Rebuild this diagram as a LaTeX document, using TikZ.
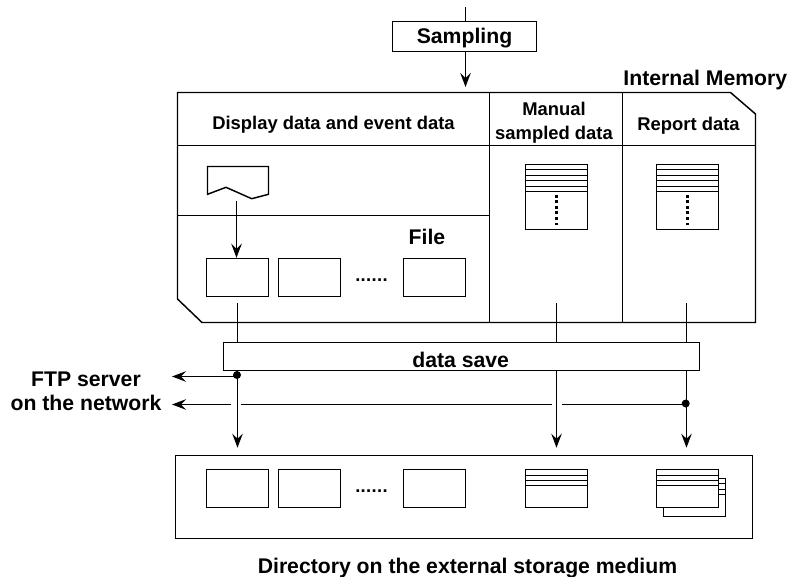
\documentclass[tikz,border=0pt]{standalone}
\usepackage{fontspec}
\setmainfont{Liberation Sans}
\usetikzlibrary{arrows.meta}

\tikzset{
  lbl/.style={font=\fontsize{21.2}{24}\selectfont\bfseries,align=center,inner sep=0pt},
  hdr/.style={font=\fontsize{18.4}{24}\selectfont\bfseries,align=center,inner sep=0pt},
  filebox/.style={draw,minimum width=62,minimum height=38,inner sep=0pt},
  jdot/.style={circle,fill=black,minimum size=8,inner sep=0pt},
  arr/.style={-{Stealth[length=14,width=10.5,inset=5]}},
  rowdots/.style={hdr,font=\fontsize{18.4}{24}\selectfont\bfseries\addfontfeatures{LetterSpace=2}}
}

\begin{document}
\begin{tikzpicture}[x=1pt,y=-1pt,line width=1.45pt]
\useasboundingbox (0,0) rectangle (791,577);

% Internal memory outline
\draw (177.5,92.5) -- (730.5,92.5) -- (755.5,114) -- (755.5,322.5) -- (202,322.5) -- (177.5,299) -- cycle;
\draw (177.5,145.5) -- (755.5,145.5);
\draw (177.5,215.5) -- (489.5,215.5);
\draw (489.5,92.5) -- (489.5,322.5);
\draw (622.5,92.5) -- (622.5,322.5);

% Titles
\node[lbl] (memtitle) at (705.3,80.5) {Internal Memory};
\node[hdr] (disptitle) at (333.5,124.5) {Display data and event data};
\node[hdr] (mantitle) at (554,123) {Manual\\sampled data};
\node[hdr] (reptitle) at (688.5,125.5) {Report data};
\node[lbl] (filetitle) at (427,237) {File};
\node[lbl] (ftplabel) at (86,391) {FTP server\\on the network};
\node[lbl] (dirlabel) at (467.5,568) {Directory on the external storage medium};

% Sampling box
\node[draw,lbl,minimum width=144,minimum height=30,text height=14,text depth=0] (sampling) at (464.5,36.5) {Sampling};
\coordinate (smpin) at (465.5,7);
\coordinate (smptip) at (465.5,87);
\draw (smpin) -- (smpin |- sampling.north);
\draw[arr] (smptip |- sampling.south) -- (smptip);

% Display data buffer
\draw (207.5,166.5) -- (268.5,166.5) -- (268.5,194.3) -- (251.7,198.7) -- (226,187.3) -- (207.5,194.3) -- cycle;

% Files in memory
\node[filebox] (memfa) at (237.5,277.5) {};
\node[filebox] (memfb) at (309.5,277.5) {};
\node[filebox] (memfc) at (434.5,277.5) {};
\node[rowdots] (memdots) at (371.5,280) {......};
\coordinate (buftail) at (236.5,201);
\draw[arr] (buftail) -- (buftail |- memfa.north);

% Sampled data tables
\foreach \tname/\tx in {mantab/556.5,reptab/687.5}{
  \node[draw,minimum width=62,minimum height=65,inner sep=0pt] (\tname) at (\tx,197) {};
  \foreach \ty in {169.5,175.5,180.5,186.5,191.5}
    \draw (\tname.west |- 0,\ty) -- (\tname.east |- 0,\ty);
  \draw[line width=2.6pt,dash pattern=on 2.6pt off 2.9pt] (\tx,195) -- (\tx,227);
}

% Data save bar
\node[draw,minimum width=476,minimum height=28,inner sep=0pt] (save) at (461.5,356.5) {};
\node[lbl] (savetxt) at (460.7,360) {data save};
\coordinate (dispout) at (237.5,303);
\coordinate (manout) at (556.5,303);
\coordinate (repout) at (686.5,303);
\coordinate (disptip) at (237.5,447.7);
\coordinate (mantip) at (556.5,447.7);
\coordinate (reptip) at (686.5,447.7);
\draw (dispout) -- (dispout |- save.north);
\draw (manout) -- (manout |- save.north);
\draw (repout) -- (repout |- save.north);
\draw[arr] (disptip |- save.south) -- (disptip);
\draw[arr] (mantip |- save.south) -- (mantip);
\draw[arr] (reptip |- save.south) -- (reptip);

% Branches to the FTP server
\node[jdot] (ftpa) at (237,375) {};
\node[jdot] (ftpb) at (685.7,403.5) {};
\coordinate (ftptipa) at (172,376.5);
\coordinate (ftptipb) at (172,404.5);
\coordinate (gapa) at (231,404.5);
\coordinate (gapb) at (241,404.5);
\coordinate (gapc) at (551.7,404.5);
\coordinate (gapd) at (562,404.5);
\draw[arr] (ftpa.center |- ftptipa) -- (ftptipa);
\draw[arr] (gapa) -- (ftptipb);
\draw (gapb) -- (gapc);
\draw (gapd) -- (ftpb.center |- gapd);

% Directory on the storage medium
\node[draw,minimum width=577,minimum height=83,inner sep=0pt] (dirbox) at (464,497) {};
\node[filebox] (dirfa) at (237.5,488.5) {};
\node[filebox] (dirfb) at (309.5,488.5) {};
\node[filebox] (dirfc) at (434.5,488.5) {};
\node[rowdots] (dirdots) at (371.5,491) {......};

% Saved tables
\node[filebox] (dirman) at (556.5,488.5) {};
\node[filebox] (dirrepb) at (694.5,497.5) {};
\node[filebox,fill=white] (dirrep) at (687.5,488.5) {};
\foreach \ty in {475.5,480.5,485.5}{
  \draw (dirman.west |- 0,\ty) -- (dirman.east |- 0,\ty);
  \draw (dirrep.west |- 0,\ty) -- (dirrep.east |- 0,\ty);
}
\foreach \ty in {483.5,489.5,494.5}
  \draw (dirrep.east |- 0,\ty) -- (dirrepb.east |- 0,\ty);

\end{tikzpicture}
\end{document}
